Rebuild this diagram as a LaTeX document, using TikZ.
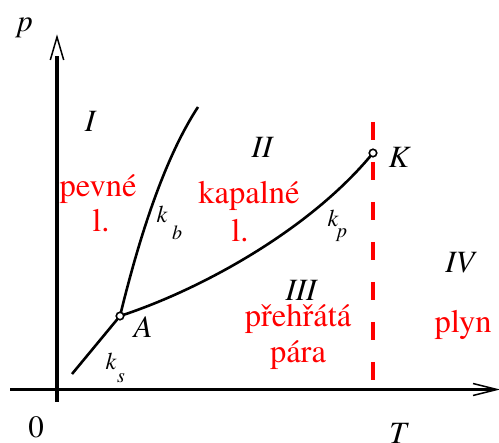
\documentclass[tikz,border=0pt]{standalone}
\usepackage{fontspec}
\newfontfamily\tms{texgyretermes}[Extension=.otf, UprightFont=*-regular, ItalicFont=*-italic, BoldFont=*-bold, BoldItalicFont=*-bolditalic]
\begin{document}
\begin{tikzpicture}[x=1pt,y=-1pt,
  axis/.style={line width=3.8pt},
  barb/.style={line width=1.5pt, line join=miter},
  curve/.style={line width=2.6pt},
  pt/.style={circle, draw, fill=white, line width=1.6pt, inner sep=0pt, minimum size=7.5pt},
  lab/.style={anchor=base, inner sep=0pt, font=\tms\fontsize{31}{36}\selectfont\itshape},
  klab/.style={anchor=base, inner sep=0pt, font=\tms\fontsize{24}{28}\selectfont\itshape},
  slab/.style={anchor=base, inner sep=0pt, font=\tms\fontsize{20}{24}\selectfont\itshape},
  rlab/.style={anchor=base, inner sep=0pt, text=red, font=\tms\fontsize{32.5}{36}\selectfont},
  crit/.style={red, line width=4pt, dash pattern=on 18pt off 22pt}]
\useasboundingbox (0,0) rectangle (499,443);
% axes
\coordinate (O) at (57,389.5);
\coordinate (ybot) at (57,402);
\coordinate (ytop) at (57,37);
\coordinate (xleft) at (10,389.5);
\coordinate (xtip) at (497,389.5);
\draw[axis] (ybot) -- (57,56);
\draw[barb] (50.3,60) -- (ytop) -- (63.7,60);
\draw[axis, line width=3.4pt] (xleft) -- (493,389.5);
\draw[barb] (473,383.5) -- (xtip) -- (473,395.5);
% points
\coordinate (A) at (120,316);
\coordinate (K) at (373,153);
\coordinate (ks0) at (72,374);
\coordinate (kb1) at (198,107);
% critical isotherm
\coordinate (c1) at (373,122);
\coordinate (c2) at (373,380);
\draw[crit] (c1) -- (c2);
% curves
\draw[curve] (ks0) -- (A);
\draw[curve] (A) .. controls (135,255) and (160,165) .. (kb1);
\draw[curve] (A) .. controls (200,290) and (310,230) .. (K);
\node[pt] (Apt) at (A) {};
\node[pt] (Kpt) at (K) {};
% axis labels
\node[lab] (p) at (25,32) {p};
\node[lab, font=\tms\fontsize{31}{36}\selectfont] (zero) at (36,438) {0};
\node[lab] (T) at (398,444) {T};
% region labels
\node[lab] (r1) at (90,132) {I};
\node[lab] (r2) at (262,158) {II};
\node[lab] (r3) at (301,301) {III};
\node[lab] (r4) at (460,273) {IV};
\node[lab] (Kl) at (399,168) {K};
\node[lab] (Al) at (143,338) {A};
% curve labels
\node[klab] (kb) at (162,223) {k};
\node[slab] (kbs) at (177,240) {b};
\node[klab] (kp) at (333,227) {k};
\node[slab] (kps) at (342,238) {p};
\node[klab] (ks) at (111,370) {k};
\node[slab] (kss) at (121,383) {s};
% red phase names
\node[rlab] (t1a) at (98,197) {pevné};
\node[rlab] (t1b) at (101,232) {l.};
\node[rlab] (t2a) at (249,204) {kapalné};
\node[rlab] (t2b) at (240,242) {l.};
\node[rlab] (t3a) at (298,327) {přehřátá};
\node[rlab] (t3b) at (298,363) {pára};
\node[rlab] (t4) at (463,333) {plyn};
\end{tikzpicture}
\end{document}
